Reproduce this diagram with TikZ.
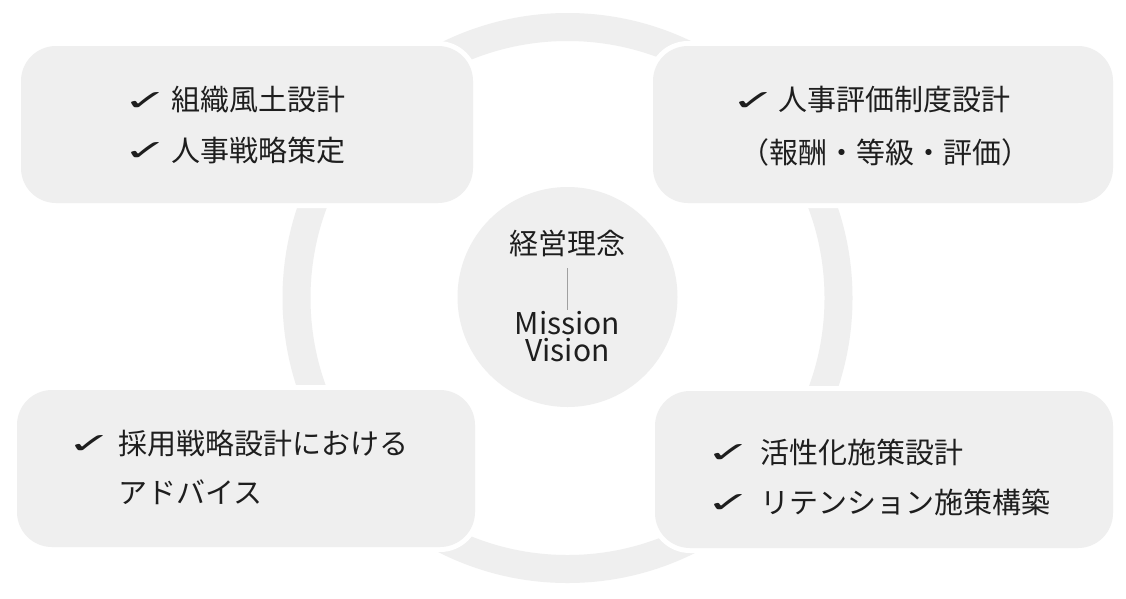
\documentclass[tikz,border=0pt]{standalone}
\usepackage{fontspec}
\setmainfont{Noto Sans CJK JP}
\newfontfamily\dejavu{DejaVu Sans}
\definecolor{panel}{HTML}{EFEFEF}
\definecolor{ink}{HTML}{1E1E1E}
\definecolor{rule}{HTML}{A0A0A0}
\newcommand{\chkmark}{\scalebox{1.28}[0.68]{✓}}
\begin{document}
\begin{tikzpicture}[x=1pt,y=-1pt,
  box/.style={shape=rectangle, fill=panel, rounded corners=35pt, inner sep=0pt,
              preaction={draw=white, line width=10pt}},
  txt/.style={inner sep=0pt, text=ink, font=\fontsize{29}{29}\selectfont},
  chk/.style={inner sep=0pt, text=ink, font=\dejavu\fontsize{42}{42}\selectfont},
  hub/.style={shape=circle, fill=panel, inner sep=0pt, minimum size=220pt}]
\useasboundingbox (0,0) rectangle (1126,598);
\fill[white] (0,0) rectangle (1126,598);
% ring
\draw[panel, line width=28pt] (567.5,298) circle[radius=271];
% hub
\node[hub] (hub) at (567.5,297) {};
\node[txt] (rinen) at (567.5,243) {経営理念};
\coordinate (lt) at (567.5,268);
\coordinate (lb) at (567.5,310);
\draw[rule, line width=0.8pt] (lt) -- (lb);
\node[txt, font=\fontsize{30}{30}\selectfont] (mis) at (567.5,323) {Mission};
\node[txt, font=\fontsize{30}{30}\selectfont] (vis) at (567.5,350.5) {Vision};
% boxes
\node[box, minimum width=452pt, minimum height=157pt] (tl) at (247,124.5) {};
\node[box, minimum width=460pt, minimum height=157pt] (tr) at (883,124.5) {};
\node[box, minimum width=458pt, minimum height=157pt] (bl) at (246,468.5) {};
\node[box, minimum width=458pt, minimum height=157pt] (br) at (884,469.5) {};
% top-left
\node[chk] (c1) at (146.5,101) {\chkmark};
\node[txt, anchor=west] (t1) at (171,100) {組織風土設計};
\node[chk] (c2) at (146.5,151) {\chkmark};
\node[txt, anchor=west] (t2) at (171,150) {人事戦略策定};
% top-right
\node[chk] (c3) at (754,101) {\chkmark};
\node[txt, anchor=west] (t3) at (778,100) {人事評価制度設計};
\node[txt] (t4) at (885,152) {（報酬・等級・評価）};
% bottom-left
\node[chk] (c5) at (90.5,444) {\chkmark};
\node[txt, anchor=west] (t5) at (118,443) {採用戦略設計における};
\node[txt, anchor=west] (t6) at (118,492) {アドバイス};
% bottom-right
\node[chk] (c7) at (729,453) {\chkmark};
\node[txt, anchor=west] (t7) at (760,452) {活性化施策設計};
\node[chk] (c8) at (729,503) {\chkmark};
\node[txt, anchor=west] (t8) at (760,502) {リテンション施策構築};
\end{tikzpicture}
\end{document}
